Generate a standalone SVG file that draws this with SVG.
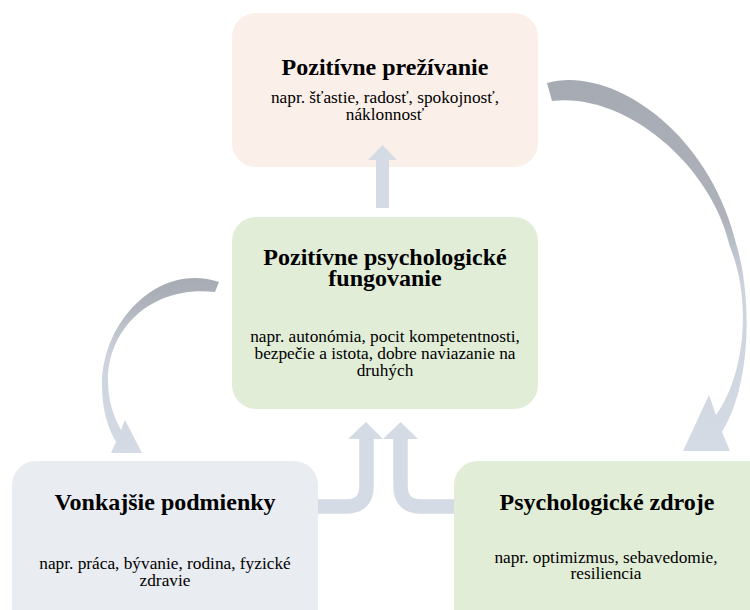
<svg xmlns="http://www.w3.org/2000/svg" width="750" height="610" viewBox="0 0 750 610">
  <style>
    .title { font-family: "Liberation Serif", "Times New Roman", "DejaVu Serif", serif; font-weight: bold; font-size: 24px; fill: #000; text-anchor: middle; }
    .body { font-family: "Liberation Serif", "Times New Roman", "DejaVu Serif", serif; font-size: 17.3px; fill: #000; text-anchor: middle; }
    .box-peach { fill: #FBEFE9; }
    .box-green { fill: #E2EDD8; }
    .box-blue { fill: #E9ECF1; }
    .flow { fill: #D5DBE5; }
    .flow-line { fill: none; stroke: #D5DBE5; stroke-width: 14.5; }
  </style>
  <defs>
    <linearGradient id="gradRight" gradientUnits="userSpaceOnUse" x1="0" y1="80" x2="0" y2="450">
      <stop offset="0" stop-color="#A6ABB3"/>
      <stop offset="0.38" stop-color="#AEB3BB"/>
      <stop offset="0.55" stop-color="#CDD3DD"/>
      <stop offset="1" stop-color="#D5DBE5"/>
    </linearGradient>
    <linearGradient id="gradLeft" gradientUnits="userSpaceOnUse" x1="0" y1="276" x2="0" y2="453">
      <stop offset="0" stop-color="#A6ABB3"/>
      <stop offset="0.15" stop-color="#AEB3BB"/>
      <stop offset="0.45" stop-color="#CDD3DD"/>
      <stop offset="1" stop-color="#D5DBE5"/>
    </linearGradient>
  </defs>

  <g id="node-prezivanie">
    <rect class="box-peach" x="232" y="13" width="306" height="154" rx="24"/>
    <text class="title" x="385" y="75">Pozitívne prežívanie</text>
    <text class="body" x="385" y="103">napr. šťastie, radosť, spokojnosť,</text>
    <text class="body" x="385" y="120">náklonnosť</text>
  </g>

  <g id="node-fungovanie">
    <rect class="box-green" x="232" y="217" width="306" height="192" rx="24"/>
    <text class="title" x="385" y="265">Pozitívne psychologické</text>
    <text class="title" x="385" y="286">fungovanie</text>
    <text class="body" x="385" y="342">napr. autonómia, pocit kompetentnosti,</text>
    <text class="body" x="385" y="359">bezpečie a istota, dobre naviazanie na</text>
    <text class="body" x="385" y="376">druhých</text>
  </g>

  <g id="node-podmienky">
    <rect class="box-blue" x="12" y="461" width="306" height="175" rx="24"/>
    <text class="title" x="165" y="510">Vonkajšie podmienky</text>
    <text class="body" x="165" y="569">napr. práca, bývanie, rodina, fyzické</text>
    <text class="body" x="165" y="586">zdravie</text>
  </g>

  <g id="node-zdroje">
    <rect class="box-green" x="454" y="461" width="320" height="175" rx="24"/>
    <text class="title" x="607" y="510">Psychologické zdroje</text>
    <text class="body" x="606" y="563">napr. optimizmus, sebavedomie,</text>
    <text class="body" x="606" y="579">resiliencia</text>
  </g>

  <g id="connectors">
    <!-- up arrow: functioning -> experience (head overlaps the upper box) -->
    <rect class="flow" x="376" y="159" width="13" height="49"/>
    <polygon class="flow" points="368,160 397,160 382.5,145"/>

    <!-- double up arrow fed by the two bottom boxes -->
    <path class="flow-line" d="M366.5,438 L366.5,486 Q366.5,506.5 346,506.5 L318,506.5"/>
    <polygon class="flow" points="348,439 383,439 366,422"/>
    <path class="flow-line" d="M400.5,438 L400.5,486 Q400.5,506.5 421,506.5 L454,506.5"/>
    <polygon class="flow" points="383,439 418,439 400.5,422"/>

    <!-- curved arrow: experience -> psychological resources -->
    <path fill="url(#gradRight)" d="M547,83 C610,65 710,130 737,247 C750,290 754,380 722,432 L730,451 L683,451 L709,395 L716,415 C745,375 752,300 730,247 C712,165 625,92 552,101 Z"/>

    <!-- curved arrow: functioning -> external conditions -->
    <path fill="url(#gradLeft)" d="M219,282 C160,262 102,320 102,385 C102,410 108,428 116,442 L111,453 L142,453 L125,420 L121,430 C113,415 108,400 108,380 C108,330 150,285 215,292 Z"/>
  </g>
</svg>
